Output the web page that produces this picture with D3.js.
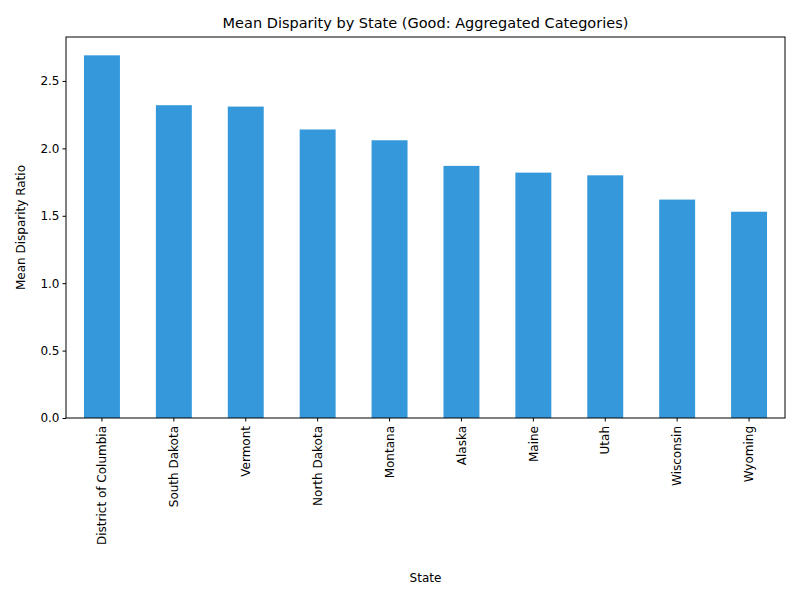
<html>
<head>
<script src="https://cdn.jsdelivr.net/npm/d3@7"></script>
<style>body{margin:0;background:#fff;font-family:"DejaVu Sans",sans-serif}</style>
</head>
<body>
<svg id="c" width="800" height="600"></svg>
<script>
var states = ["District of Columbia","South Dakota","Vermont","North Dakota","Montana","Alaska","Maine","Utah","Wisconsin","Wyoming"]
var ratios = [2.69,2.32,2.31,2.14,2.06,1.87,1.82,1.80,1.62,1.53]
var yTicks = [0,0.5,1.0,1.5,2.0,2.5]

var svg = d3.select("#c")
var L = 66, R = 785, T = 37, B = 418
var x = d3.scaleBand().domain(states).range([L,R]).paddingInner(0.5).paddingOuter(0.25)
var y = d3.scaleLinear().domain([0,2.826]).range([B,T])

svg.selectAll("rect.bar").data(states).enter().append("rect")
  .attr("x", d => x(d)).attr("width", x.bandwidth())
  .attr("y", (d,i) => y(ratios[i])).attr("height", (d,i) => B - y(ratios[i]))
  .style("fill", "#3498db")

svg.append("rect").attr("x",L).attr("y",T).attr("width",R-L).attr("height",B-T)
  .style("fill","none").style("stroke","#000").style("stroke-width",1)

var ya = svg.append("g").attr("transform","translate("+L+",0)")
  .call(d3.axisLeft(y).tickValues(yTicks).tickFormat(d3.format(".1f")).tickSizeOuter(0).tickSize(3.5))
ya.select(".domain").remove()
ya.selectAll("text").style("font-size","12px").style("font-family","DejaVu Sans").attr("fill","#000")

var xa = svg.append("g").attr("transform","translate(0,"+B+")")
  .call(d3.axisBottom(x).tickSizeOuter(0).tickSize(3.5))
xa.select(".domain").remove()
xa.selectAll("text").style("font-size","12px").style("font-family","DejaVu Sans").attr("fill","#000")
  .attr("transform","rotate(-90)").attr("text-anchor","end").attr("x",-8).attr("y",0).attr("dy","0.35em")

svg.append("text").attr("x",(L+R)/2).attr("y",28).attr("text-anchor","middle")
  .style("font-size","14.5px").text("Mean Disparity by State (Good: Aggregated Categories)")
svg.append("text").attr("x",(L+R)/2).attr("y",582).attr("text-anchor","middle")
  .style("font-size","12px").text("State")
svg.append("text").attr("transform","translate(25,"+((T+B)/2)+") rotate(-90)").attr("text-anchor","middle")
  .style("font-size","12px").text("Mean Disparity Ratio")
</script>
</body>
</html>
